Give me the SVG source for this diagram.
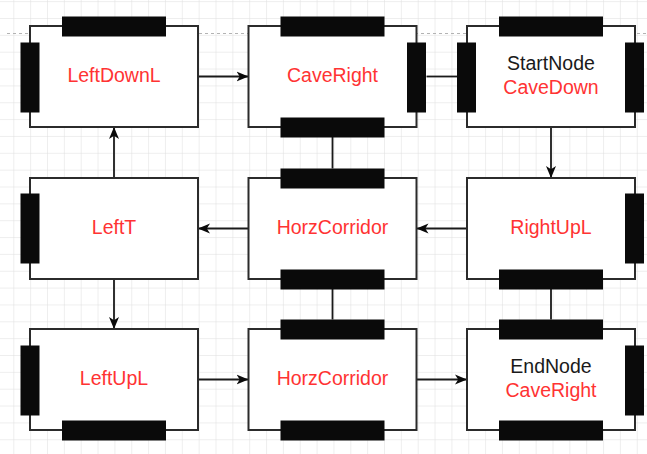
<svg xmlns="http://www.w3.org/2000/svg" width="647" height="454" viewBox="0 0 647 454">
<style>
.node{fill:#ffffff;stroke:#2b2b2b;stroke-width:2}
.bar{fill:#0a0a0a;stroke:#0a0a0a;stroke-width:1}
.lbl{font-family:"Liberation Sans",Arial,Helvetica,sans-serif;font-size:19.5px;text-anchor:middle;fill:#ff3333}
.blk{fill:#1a1a1a}
.edge{fill:none;stroke:#1a1a1a;stroke-width:1.8}
</style>
<defs>
<pattern id="grid" x="13.3" y="18" width="16.85" height="16.85" patternUnits="userSpaceOnUse">
<path d="M0,0 H16.85 M0,0 V16.85" fill="none" stroke="#dedede" stroke-width="1"/>
</pattern>
<marker id="arr" markerWidth="13" markerHeight="11" refX="12" refY="5.5" orient="auto" markerUnits="userSpaceOnUse">
<path d="M0,0.5 L12,5.5 L0,10.5 L3.2,5.5 Z" fill="#0a0a0a"/>
</marker>
</defs>
<rect x="0" y="0" width="647" height="454" fill="#ffffff"/>
<rect x="0" y="0" width="647" height="454" fill="url(#grid)"/>
<path d="M7,33.5 H647" stroke="#b3b3b3" stroke-width="1" stroke-dasharray="3,3" fill="none"/>

<g id="connectors">
<path class="edge" d="M198,76.5 H248.5" marker-end="url(#arr)"/>
<path class="edge" d="M426.5,76.5 H457.5"/>
<path class="edge" d="M551,127 V178" marker-end="url(#arr)"/>
<path class="edge" d="M467,228.5 H416.5" marker-end="url(#arr)"/>
<path class="edge" d="M248.5,228.5 H198" marker-end="url(#arr)"/>
<path class="edge" d="M114,178 V127" marker-end="url(#arr)"/>
<path class="edge" d="M114,279 V329" marker-end="url(#arr)"/>
<path class="edge" d="M198,379.5 H248.5" marker-end="url(#arr)"/>
<path class="edge" d="M416.5,379.5 H467" marker-end="url(#arr)"/>
<path class="edge" d="M332.5,136.5 V168.5"/>
<path class="edge" d="M332.5,288.5 V319.5"/>
<path class="edge" d="M551,288.5 V319.5"/>
</g>

<g id="node-leftdownl">
<rect class="node" x="30" y="26" width="168" height="101"/>
<rect class="bar" x="62.5" y="17" width="103" height="19"/>
<rect class="bar" x="21" y="43" width="18" height="69"/>
<text class="lbl" x="114" y="82">LeftDownL</text>
</g>

<g id="node-caveright">
<rect class="node" x="248.5" y="26" width="168" height="101"/>
<rect class="bar" x="281" y="17" width="103" height="19"/>
<rect class="bar" x="281" y="118" width="103" height="19"/>
<rect class="bar" x="407.5" y="43" width="18" height="69"/>
<text class="lbl" x="332.5" y="82">CaveRight</text>
</g>

<g id="node-startnode">
<rect class="node" x="467" y="26" width="168" height="101"/>
<rect class="bar" x="499.5" y="17" width="103" height="19"/>
<rect class="bar" x="457.5" y="43" width="18" height="69"/>
<rect class="bar" x="625.5" y="43" width="18" height="69"/>
<text class="lbl blk" x="551" y="70">StartNode</text>
<text class="lbl" x="551" y="94">CaveDown</text>
</g>

<g id="node-leftt">
<rect class="node" x="30" y="178" width="168" height="101"/>
<rect class="bar" x="21" y="194" width="18" height="69"/>
<text class="lbl" x="114" y="234">LeftT</text>
</g>

<g id="node-horzcorridor-1">
<rect class="node" x="248.5" y="178" width="168" height="101"/>
<rect class="bar" x="281" y="169" width="103" height="19"/>
<rect class="bar" x="281" y="270" width="103" height="19"/>
<text class="lbl" x="332.5" y="234">HorzCorridor</text>
</g>

<g id="node-rightupl">
<rect class="node" x="467" y="178" width="168" height="101"/>
<rect class="bar" x="625.5" y="194" width="18" height="69"/>
<rect class="bar" x="499.5" y="270" width="103" height="19"/>
<text class="lbl" x="551" y="234">RightUpL</text>
</g>

<g id="node-leftupl">
<rect class="node" x="30" y="329" width="168" height="101"/>
<rect class="bar" x="21" y="346" width="18" height="69"/>
<rect class="bar" x="62.5" y="421" width="103" height="19"/>
<text class="lbl" x="114" y="385">LeftUpL</text>
</g>

<g id="node-horzcorridor-2">
<rect class="node" x="248.5" y="329" width="168" height="101"/>
<rect class="bar" x="281" y="320" width="103" height="19"/>
<rect class="bar" x="281" y="421" width="103" height="19"/>
<text class="lbl" x="332.5" y="385">HorzCorridor</text>
</g>

<g id="node-endnode">
<rect class="node" x="467" y="329" width="168" height="101"/>
<rect class="bar" x="499.5" y="320" width="103" height="19"/>
<rect class="bar" x="625.5" y="346" width="18" height="69"/>
<rect class="bar" x="499.5" y="421" width="103" height="19"/>
<text class="lbl blk" x="551" y="373">EndNode</text>
<text class="lbl" x="551" y="397">CaveRight</text>
</g>
</svg>
